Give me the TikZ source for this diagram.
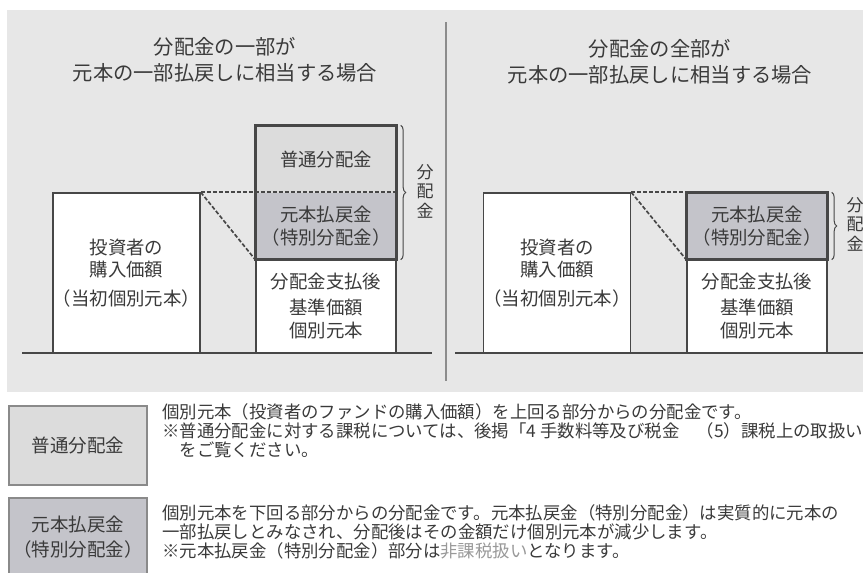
\documentclass[tikz,border=0pt]{standalone}
\usepackage{fontspec}
\setmainfont{Noto Sans CJK JP}
\usetikzlibrary{decorations.pathreplacing}
\definecolor{panelgray}{HTML}{E7E7E7}
\definecolor{futsugray}{HTML}{DCDCDC}
\definecolor{modoshigray}{HTML}{C4C4CA}
\definecolor{inkgray}{HTML}{3A3A3A}
\definecolor{linegray}{HTML}{474747}
\definecolor{keyedge}{HTML}{8A8A8A}
\tikzset{
	valbox/.style={draw=linegray, line width=1.4pt, fill=white, inner sep=0pt, align=center,
		text=inkgray, minimum width=140pt, font=\fontsize{18.4}{22.5}\selectfont},
	partbox/.style={valbox, draw=none},
	outline/.style={draw=linegray, line width=2.6pt},
	dashline/.style={draw=linegray, line width=1.7pt, dash pattern=on 4pt off 2pt},
	ground/.style={draw=linegray, line width=2.4pt},
	bracket/.style={draw=linegray, line width=1pt, decorate, decoration={brace, amplitude=5pt}},
	vlabel/.style={text=inkgray, align=center, inner sep=0pt, font=\fontsize{17}{19.5}\selectfont},
	heading/.style={text=inkgray, align=center, font=\fontsize{20.3}{26}\selectfont},
	keybox/.style={draw=keyedge, line width=1.6pt, inner sep=0pt, align=center, text=inkgray,
		minimum width=138pt, minimum height=79pt, font=\fontsize{18.5}{25}\selectfont},
	keytext/.style={text=inkgray, align=left, inner sep=0pt, anchor=north west,
		font=\fontsize{17.4}{18.8}\selectfont}
}

\begin{document}
\begin{tikzpicture}[x=1pt, y=-1pt]
		%%%%% START %%%%%
		\useasboundingbox (0, 0) rectangle (863, 573);
		\clip (0, 0) rectangle (863, 573);
		
		\fill[panelgray] (7, 10) rectangle (875, 392);
		\draw[line width=1.6pt, color=black!45] (446, 22) -- (446, 381);
		
		% left case
		\node[heading] (titleL) at (225, 60) {分配金の一部が\\元本の一部払戻しに相当する場合};
		
		\node[valbox, minimum width=139pt, minimum height=160pt] (buyL) at (126.5, 273)
			{投資者の\\購入価額\\[6pt]（当初個別元本）};
		\node[valbox, minimum height=94pt] (afterL) at (326, 306) {分配金支払後\\[4pt]基準価額\\個別元本};
		\node[partbox, fill=futsugray, minimum height=67pt] (futsuL) at (326, 159.5) {普通分配金};
		\node[partbox, fill=modoshigray, minimum height=66pt] (modoshiL) at (326, 226)
			{元本払戻金\\（特別分配金）};
		\draw[outline] (futsuL.north west) rectangle (modoshiL.south east);
		
		\draw[dashline] (buyL.north east) -- (modoshiL.north east);
		\draw[dashline] (buyL.north east) -- (modoshiL.south west);
		
		\draw[bracket] ([xshift=4pt]futsuL.north east) -- ([xshift=4pt]modoshiL.south east);
		\node[vlabel] (haitoL) at (425, 191) {分\\配\\金};
		
		\draw[ground] (22, 353) -- (432, 353);
		
		% right case
		\node[heading] (titleR) at (660, 62) {分配金の全部が\\元本の一部払戻しに相当する場合};
		
		\node[valbox, minimum width=139pt, minimum height=160pt] (buyR) at (557, 273)
			{投資者の\\購入価額\\[6pt]（当初個別元本）};
		\node[valbox, minimum height=94pt] (afterR) at (757, 306) {分配金支払後\\[4pt]基準価額\\個別元本};
		\node[partbox, fill=modoshigray, minimum height=66pt] (modoshiR) at (757, 226)
			{元本払戻金\\（特別分配金）};
		\draw[outline] (modoshiR.north west) rectangle (modoshiR.south east);
		
		\draw[dashline] (buyR.north east) -- (modoshiR.north west);
		\draw[dashline] (buyR.north east) -- (modoshiR.south west);
		
		\draw[bracket] ([xshift=4pt]modoshiR.north east) -- ([xshift=4pt]modoshiR.south east);
		\node[vlabel] (haitoR) at (855, 224) {分\\配\\金};
		
		\draw[ground] (455, 353) -- (875, 353);
		
		% key
		\node[keybox, fill=futsugray] (keyfutsu) at (78, 445.5) {普通分配金};
		\node[keybox, fill=modoshigray] (keymodoshi) at (78, 537.5) {元本払戻金\\（特別分配金）};
		
		\node[keytext] (notefutsu) at (162, 403.5)
			{個別元本（投資者のファンドの購入価額）を上回る部分からの分配金です。\\
			※普通分配金に対する課税については、後掲「4 手数料等及び税金　（5）課税上の取扱い」\\
			　をご覧ください。};
		\node[keytext] (notemodoshi) at (162, 504.5)
			{個別元本を下回る部分からの分配金です。元本払戻金（特別分配金）は実質的に元本の\\
			一部払戻しとみなされ、分配後はその金額だけ個別元本が減少します。\\
			※元本払戻金（特別分配金）部分は\textcolor{black!40}{非課税扱い}となります。};
		
		%%%%% END %%%%%
	\end{tikzpicture}
\end{document}
